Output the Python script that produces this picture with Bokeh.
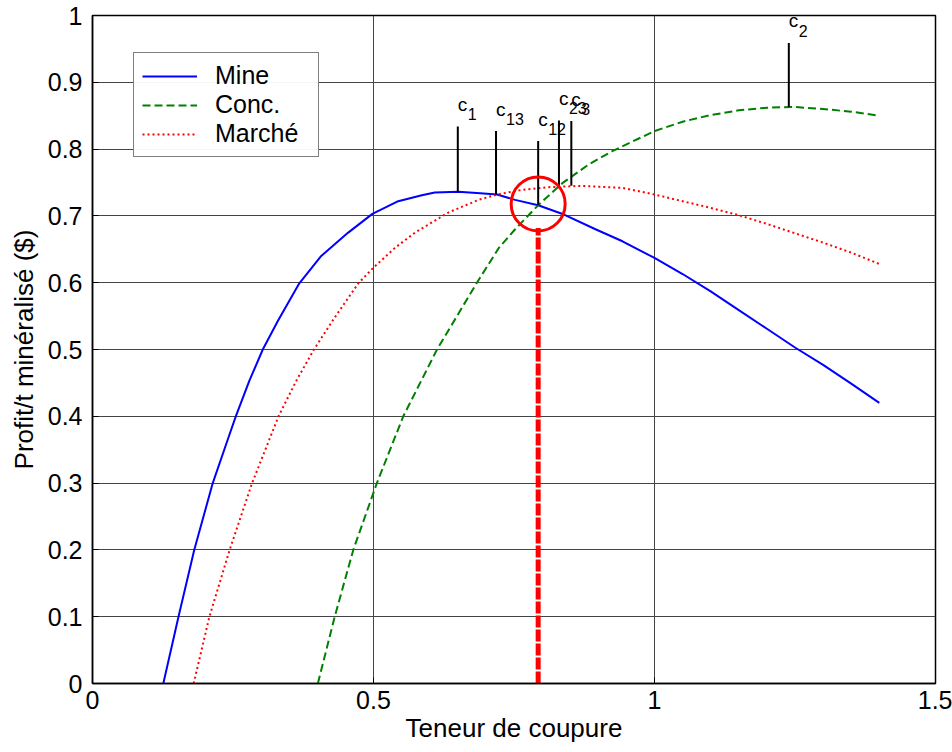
from bokeh.plotting import figure
from bokeh.models import FixedTicker, Legend, LegendItem
from bokeh.core.properties import value
from bokeh.embed import file_html
from bokeh.resources import INLINE

# Data
mine_x = [0.126, 0.153, 0.181, 0.214, 0.241, 0.255, 0.279, 0.303, 0.33, 0.368, 0.407, 0.455, 0.498,
          0.544, 0.586, 0.609, 0.651, 0.69, 0.72, 0.752, 0.793, 0.839, 0.895, 0.943,
          1.0, 1.05, 1.1, 1.15, 1.2, 1.25, 1.3, 1.35, 1.4]
mine_y = [0.0, 0.1, 0.2, 0.3, 0.366, 0.4, 0.453, 0.5, 0.543, 0.599, 0.64, 0.675, 0.703,
          0.722, 0.731, 0.735, 0.736, 0.734, 0.732, 0.724, 0.716, 0.702, 0.68, 0.662,
          0.637, 0.613, 0.587, 0.559, 0.531, 0.503, 0.477, 0.449, 0.42]
conc_x = [0.401, 0.431, 0.464, 0.506, 0.553, 0.613, 0.684, 0.723, 0.752, 0.793, 0.836, 0.883, 0.925,
          1.0, 1.05, 1.1, 1.15, 1.2, 1.25, 1.3, 1.35, 1.4]
conc_y = [0.0, 0.1, 0.2, 0.3, 0.4, 0.5, 0.6, 0.652, 0.68, 0.716, 0.749, 0.777, 0.797,
          0.827, 0.841, 0.851, 0.858, 0.862, 0.863, 0.86, 0.856, 0.85]
march_x = [0.18, 0.208, 0.244, 0.284, 0.331, 0.3625, 0.394, 0.431, 0.473, 0.498, 0.538, 0.574, 0.633,
           0.687, 0.72, 0.764, 0.812, 0.871, 0.943, 1.0, 1.05, 1.1, 1.15, 1.2, 1.25, 1.3, 1.35, 1.4]
march_y = [0.0, 0.1, 0.2, 0.3, 0.4, 0.453, 0.5, 0.548, 0.599, 0.621, 0.652, 0.675, 0.705,
           0.724, 0.732, 0.739, 0.743, 0.745, 0.742, 0.732, 0.722, 0.712, 0.701, 0.688, 0.674, 0.66, 0.645, 0.628]

ann_names = ["1", "13", "12", "23", "3", "2"]
ann_x = [0.65, 0.718, 0.793, 0.830, 0.852, 1.239]
ann_y0 = [0.736, 0.732, 0.716, 0.744, 0.745, 0.863]
ann_y1 = [0.834, 0.827, 0.812, 0.843, 0.842, 0.959]

opt_x = 0.793
opt_y = 0.718
opt_line_top = 0.682

x_ticks = [0, 0.5, 1, 1.5]
y_ticks = [0, 0.1, 0.2, 0.3, 0.4, 0.5, 0.6, 0.7, 0.8, 0.9, 1.0]

FONT = "Liberation Sans"

p = figure(width=952, height=752, x_range=(0, 1.5), y_range=(0, 1),
           output_backend="svg", toolbar_location=None,
           min_border_left=92, min_border_right=17, min_border_top=15, min_border_bottom=69)

p.xaxis.ticker = FixedTicker(ticks=x_ticks)
p.yaxis.ticker = FixedTicker(ticks=y_ticks)
p.xaxis.major_label_overrides = {0: "0", 0.5: "0.5", 1: "1", 1.5: "1.5"}
p.yaxis.major_label_overrides = {t: ("0" if t == 0 else "1" if t == 1 else f"{t:.1f}") for t in y_ticks}
for ax in (p.xaxis, p.yaxis):
    ax.major_label_text_font = FONT
    ax.major_label_text_font_size = "25px"
    ax.major_label_text_color = "black"
    ax.axis_label_text_font = FONT
    ax.axis_label_text_font_size = "26px"
    ax.axis_label_text_font_style = "normal"
    ax.axis_label_text_color = "black"
    ax.axis_line_color = "black"
    ax.axis_line_width = 1.5
    ax.major_tick_in = 6
    ax.major_tick_out = 0
    ax.minor_tick_line_color = None
    ax.major_tick_line_color = "black"
p.xaxis.axis_label = "Teneur de coupure"
p.yaxis.axis_label = "Profit/t minéralisé ($)"
p.xaxis.major_label_standoff = 7
p.xaxis.axis_label_standoff = 1
p.yaxis.major_label_standoff = 10
p.yaxis.axis_label_standoff = 6

p.xgrid.grid_line_color = "#444444"
p.ygrid.grid_line_color = "#444444"
p.xgrid.grid_line_width = 1
p.ygrid.grid_line_width = 1
p.outline_line_color = "black"
p.outline_line_width = 1.5

r_mine = p.line(mine_x, mine_y, line_color="blue", line_width=2)
r_conc = p.line(conc_x, conc_y, line_color="green", line_width=2, line_dash="8 4")
r_march = p.line(march_x, march_y, line_color="red", line_width=2, line_dash="2 3")

# annotation stems and labels
p.segment(x0=ann_x, y0=ann_y0, x1=ann_x, y1=ann_y1, line_color="black", line_width=2)
p.text(x=ann_x, y=ann_y1, text=["c"] * len(ann_x), text_font=value(FONT),
       text_font_size="19px", text_color="black", x_offset=0, y_offset=-22,
       text_baseline="alphabetic", text_align="left")
p.text(x=ann_x, y=ann_y1, text=ann_names, text_font=value(FONT),
       text_font_size="16px", text_color="black", x_offset=10, y_offset=-12,
       text_baseline="alphabetic", text_align="left")

# optimum
p.segment(x0=[opt_x], y0=[0], x1=[opt_x], y1=[opt_line_top], line_color="red",
          line_width=5, line_dash="12 2")
p.scatter([opt_x], [opt_y], marker="circle", size=54, fill_color=None,
          line_color="red", line_width=3)

legend = Legend(items=[LegendItem(label="Mine", renderers=[r_mine]),
                       LegendItem(label="Conc.", renderers=[r_conc]),
                       LegendItem(label="Marché", renderers=[r_march])],
                location=(41, 526))
legend.label_text_font = FONT
legend.label_text_font_size = "25px"
legend.label_text_color = "black"
legend.border_line_color = "black"
legend.border_line_width = 1.5
legend.glyph_width = 55
legend.glyph_height = 26
legend.label_height = 26
legend.label_width = 95
legend.spacing = 0
legend.padding = 8
legend.margin = 0
legend.label_standoff = 18
p.add_layout(legend, "center")

open("out.html", "w").write(file_html(p, INLINE))
